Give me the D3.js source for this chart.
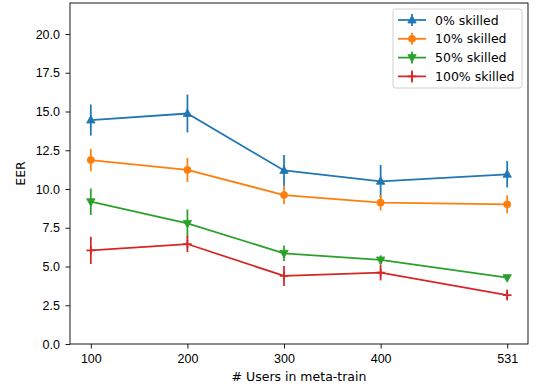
<!DOCTYPE html>
<html>
<head>
<meta charset="utf-8">
<script src="https://cdn.jsdelivr.net/npm/d3@7"></script>
<style>
  body { margin: 0; background: #fff; }
  svg { font-family: "DejaVu Sans", sans-serif; }
</style>
</head>
<body>
<div id="chart"></div>
<script>
// data
var users = [100, 200, 300, 400, 531];
var skilled0 = [14.45, 14.87, 11.2, 10.5, 10.95];
var skilled0Err = [1.0, 1.22, 1.0, 1.05, 0.85];
var skilled10 = [11.87, 11.23, 9.61, 9.12, 9.01];
var skilled10Err = [0.72, 0.78, 0.6, 0.5, 0.58];
var skilled50 = [9.18, 7.78, 5.85, 5.42, 4.28];
var skilled50Err = [0.85, 0.9, 0.5, 0.3, 0.2];
var skilled100 = [6.04, 6.45, 4.39, 4.6, 3.16];
var skilled100Err = [0.88, 0.52, 0.65, 0.5, 0.35];
var seriesNames = ['0% skilled', '10% skilled', '50% skilled', '100% skilled'];
var yTicks = [0, 2.5, 5, 7.5, 10, 12.5, 15, 17.5, 20];

var series = [
  { name: seriesNames[0], vals: skilled0, err: skilled0Err, color: '#1f77b4', marker: 'tri' },
  { name: seriesNames[1], vals: skilled10, err: skilled10Err, color: '#ff7f0e', marker: 'circle' },
  { name: seriesNames[2], vals: skilled50, err: skilled50Err, color: '#2ca02c', marker: 'tridown' },
  { name: seriesNames[3], vals: skilled100, err: skilled100Err, color: '#d62728', marker: 'plus' }
];

var W = 537, H = 387;
var plotL = 70, plotR = 528, plotT = 3, plotB = 344;
var fontSize = '12.5px';

var svg = d3.select('#chart').append('svg')
  .attr('width', W)
  .attr('height', H);

var xMin = d3.min(users), xMax = d3.max(users), pad = (xMax - xMin) * 0.05;
var x = d3.scaleLinear().domain([xMin - pad, xMax + pad]).range([plotL, plotR]);
var y = d3.scaleLinear().domain([0, 22]).range([plotB, plotT]);

// axes
var xAxis = d3.axisBottom(x).tickValues(users).tickSize(4.5).tickPadding(5.5).tickFormat(d3.format('d'));
var yAxis = d3.axisLeft(y).tickValues(yTicks).tickSize(4.5).tickPadding(5.5).tickFormat(d3.format('.1f'));

var gx = svg.append('g').attr('transform', 'translate(0,' + plotB + ')').call(xAxis);
var gy = svg.append('g').attr('transform', 'translate(' + plotL + ',0)').call(yAxis);
[gx, gy].forEach(function (g) {
  g.select('.domain').remove();
  g.selectAll('.tick line').attr('stroke', '#000').attr('stroke-width', 0.9);
  g.selectAll('.tick text').attr('fill', '#000').style('font-size', fontSize);
});

// frame
svg.append('rect')
  .attr('x', plotL).attr('y', plotT)
  .attr('width', plotR - plotL).attr('height', plotB - plotT)
  .attr('fill', 'none').attr('stroke', '#000').attr('stroke-width', 0.9);

svg.append('text')
  .attr('x', (plotL + plotR) / 2).attr('y', 381)
  .attr('text-anchor', 'middle')
  .style('font-size', fontSize)
  .text('# Users in meta-train');

svg.append('text')
  .attr('transform', 'translate(24.5,' + ((plotT + plotB) / 2) + ') rotate(-90)')
  .attr('text-anchor', 'middle')
  .style('font-size', fontSize)
  .text('EER');

var markerPath = function (type) {
  if (type === 'tri') return 'M0,-4.6L4.2,3L-4.2,3Z';
  if (type === 'tridown') return 'M0,4.6L4.2,-3L-4.2,-3Z';
  if (type === 'plus') return 'M-4.3,0H4.3M0,-4.3V4.3';
  return d3.symbol(d3.symbolCircle, 40)();
};

var drawMarker = function (g, s) {
  var p = g.append('path').attr('d', markerPath(s.marker));
  if (s.marker === 'plus') {
    p.attr('fill', 'none').attr('stroke', s.color).attr('stroke-width', 1.75);
  } else {
    p.attr('fill', s.color).attr('stroke', s.color).attr('stroke-width', 0.8);
  }
  return p;
};

var line = d3.line()
  .x(function (d) { return x(d.u); })
  .y(function (d) { return y(d.v); });

series.forEach(function (s) {
  var pts = users.map(function (u, i) { return { u: u, v: s.vals[i], e: s.err[i] }; });
  var g = svg.append('g');

  g.append('path').datum(pts)
    .attr('d', line)
    .attr('fill', 'none')
    .attr('stroke', s.color)
    .attr('stroke-width', 1.75);

  g.selectAll('line.err').data(pts).enter().append('line')
    .attr('x1', function (d) { return x(d.u); })
    .attr('x2', function (d) { return x(d.u); })
    .attr('y1', function (d) { return y(d.v - d.e); })
    .attr('y2', function (d) { return y(d.v + d.e); })
    .attr('stroke', s.color)
    .attr('stroke-width', 1.75);

  pts.forEach(function (d) {
    drawMarker(g, s).attr('transform', 'translate(' + x(d.u) + ',' + y(d.v) + ')');
  });
});

// legend
var lg = svg.append('g').attr('transform', 'translate(393,9)');
lg.append('rect')
  .attr('width', 129).attr('height', 79)
  .attr('rx', 2.5)
  .attr('fill', '#fff').attr('fill-opacity', 0.8)
  .attr('stroke', '#ccc').attr('stroke-width', 0.9);

series.forEach(function (s, i) {
  var ly = 11 + i * 18.8;
  var row = lg.append('g').attr('transform', 'translate(0,' + ly + ')');
  row.append('line')
    .attr('x1', 5).attr('x2', 33)
    .attr('stroke', s.color).attr('stroke-width', 1.75);
  row.append('line')
    .attr('x1', 19).attr('x2', 19).attr('y1', -6).attr('y2', 6)
    .attr('stroke', s.color).attr('stroke-width', 1.75);
  drawMarker(row, s).attr('transform', 'translate(19,0)');
  row.append('text')
    .attr('x', 42).attr('y', 4.5)
    .style('font-size', fontSize)
    .text(s.name);
});
</script>
</body>
</html>
